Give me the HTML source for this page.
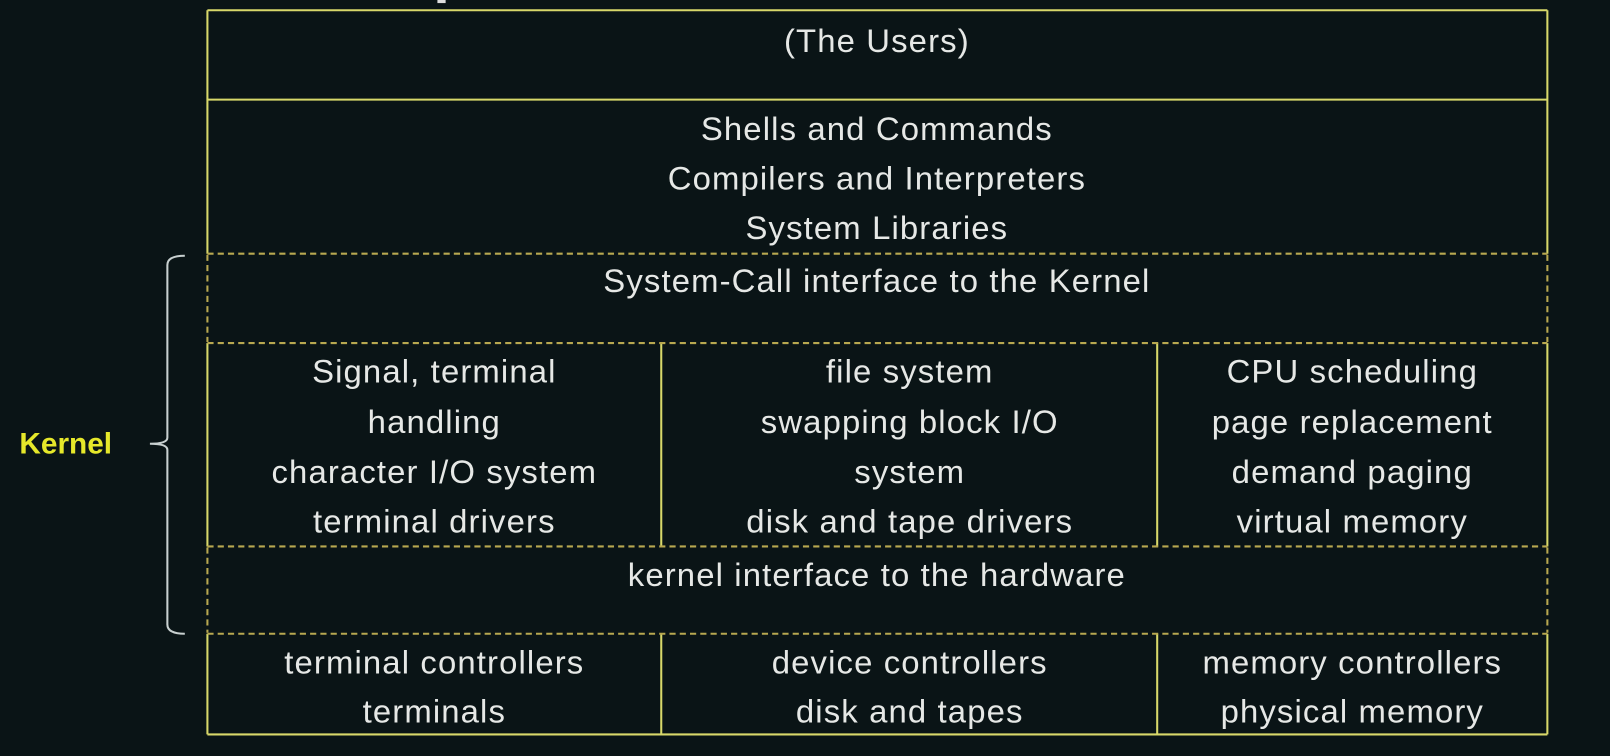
<!DOCTYPE html>
<html><head><meta charset="utf-8"><style>
html,body{margin:0;padding:0;background:#0a1416;}
svg{display:block}
text{font-family:"Liberation Sans",sans-serif;fill:#e6e8e6;font-size:32px;letter-spacing:1.1px;text-anchor:middle;dominant-baseline:middle}
</style></head><body>
<svg width="1610" height="756" viewBox="0 0 1568 736" preserveAspectRatio="none" xmlns="http://www.w3.org/2000/svg">
<rect width="1568" height="736" fill="#0a1416"/>
<rect x="426" y="0" width="8" height="3" fill="#ddd"/>
<g stroke="#d8d86a" stroke-width="2" fill="none">
<line x1="202" y1="10" x2="1507" y2="10"/>
<line x1="202" y1="10" x2="202" y2="247"/><line x1="1507" y1="10" x2="1507" y2="247"/>
<line x1="202" y1="334" x2="202" y2="532"/><line x1="1507" y1="334" x2="1507" y2="532"/>
<line x1="202" y1="617" x2="202" y2="715"/><line x1="1507" y1="617" x2="1507" y2="715"/>
<line x1="202" y1="715" x2="1507" y2="715"/>
<line x1="202" y1="97" x2="1507" y2="97"/>
<line x1="644" y1="334" x2="644" y2="532"/>
<line x1="1127" y1="334" x2="1127" y2="532"/>
<line x1="644" y1="617" x2="644" y2="715"/>
<line x1="1127" y1="617" x2="1127" y2="715"/>
</g>
<g stroke="#b8a850" stroke-width="2" stroke-dasharray="6,4" fill="none">
<line x1="202" y1="247" x2="1507" y2="247"/>
<line x1="202" y1="334" x2="1507" y2="334"/>
<line x1="202" y1="532" x2="1507" y2="532"/>
<line x1="202" y1="617" x2="1507" y2="617"/>
<line x1="202" y1="248" x2="202" y2="333"/><line x1="1507" y1="248" x2="1507" y2="333"/>
<line x1="202" y1="533" x2="202" y2="616"/><line x1="1507" y1="533" x2="1507" y2="616"/>
</g>
<path d="M180 249 Q163 249 163 258 L163 426 Q163 432 146 432 Q163 432 163 438 L163 608 Q163 617 180 617" stroke="#c8d0d0" stroke-width="2" fill="none"/>
<text x="64" y="434" style="fill:#e6e82a;font-weight:bold;font-size:29px;letter-spacing:0">Kernel</text>
<text x="854" y="42">(The Users)</text>
<text x="854" y="128">Shells and Commands</text>
<text x="854" y="176">Compilers and Interpreters</text>
<text x="854" y="224">System Libraries</text>
<text x="854" y="276">System-Call interface to the Kernel</text>
<text x="423" y="364">Signal, terminal</text>
<text x="423" y="413">handling</text>
<text x="423" y="462">character I/O system</text>
<text x="423" y="510">terminal drivers</text>
<text x="886" y="364">file system</text>
<text x="886" y="413">swapping block I/O</text>
<text x="886" y="462">system</text>
<text x="886" y="510">disk and tape drivers</text>
<text x="1317" y="364">CPU scheduling</text>
<text x="1317" y="413">page replacement</text>
<text x="1317" y="462">demand paging</text>
<text x="1317" y="510">virtual memory</text>
<text x="854" y="562">kernel interface to the hardware</text>
<text x="423" y="647">terminal controllers</text>
<text x="423" y="695">terminals</text>
<text x="886" y="647">device controllers</text>
<text x="886" y="695">disk and tapes</text>
<text x="1317" y="647">memory controllers</text>
<text x="1317" y="695">physical memory</text>
</svg>
</body></html>
